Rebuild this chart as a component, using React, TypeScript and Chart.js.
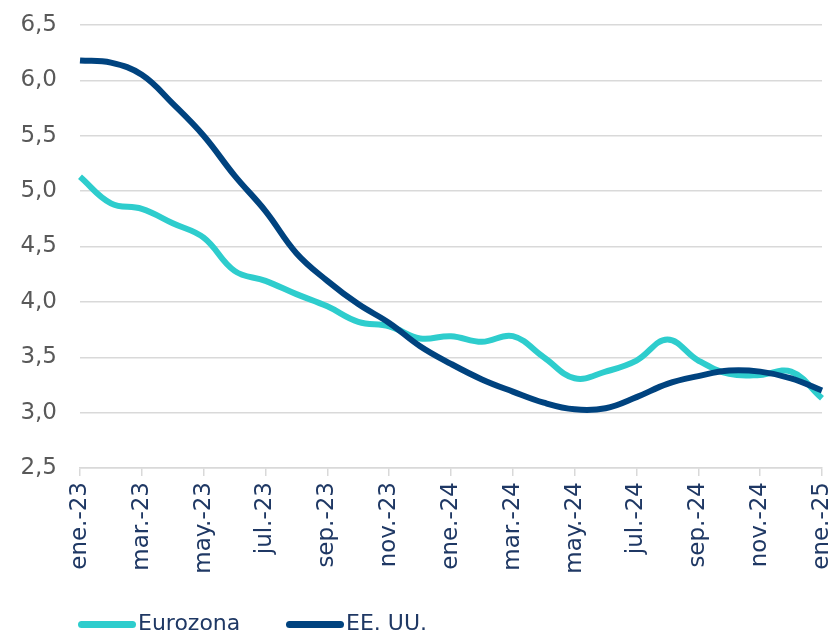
import React, { useEffect, useRef } from "react";
import { Chart, registerables } from "chart.js";

Chart.register(...registerables);

const categories = [
  "ene.-23", "feb.-23", "mar.-23", "abr.-23", "may.-23", "jun.-23",
  "jul.-23", "ago.-23", "sep.-23", "oct.-23", "nov.-23", "dic.-23",
  "ene.-24", "feb.-24", "mar.-24", "abr.-24", "may.-24", "jun.-24",
  "jul.-24", "ago.-24", "sep.-24", "oct.-24", "nov.-24", "dic.-24",
  "ene.-25",
];

const eurozona = [
  5.13, 4.89, 4.84, 4.71, 4.58, 4.28, 4.19, 4.07, 3.96, 3.82, 3.78, 3.67,
  3.69, 3.64, 3.69, 3.5, 3.31, 3.37, 3.47, 3.66, 3.47, 3.35, 3.34, 3.37, 3.13,
];

const eeuu = [
  6.18, 6.16, 6.05, 5.79, 5.5, 5.14, 4.82, 4.44, 4.19, 3.98, 3.81, 3.6,
  3.44, 3.3, 3.19, 3.09, 3.03, 3.04, 3.14, 3.26, 3.33, 3.38, 3.37, 3.31, 3.2,
];

const seriesNames = ["Eurozona", "EE. UU."];
const seriesColors = ["#2ECDCD", "#00437F"];

const yMin = 2.5;
const yMax = 6.5;
const yStep = 0.5;

const FONT = "'DejaVu Sans', 'Liberation Sans', Arial, sans-serif";

export default function App() {
  const canvasRef = useRef<HTMLCanvasElement | null>(null);

  useEffect(() => {
    document.body.style.margin = "0";
    const canvas = canvasRef.current;
    if (!canvas) return;
    const chart = new Chart(canvas, {
      type: "line",
      data: {
        labels: categories,
        datasets: [
          {
            label: seriesNames[0],
            data: eurozona,
            borderColor: seriesColors[0],
            backgroundColor: seriesColors[0],
            borderWidth: 6,
            pointRadius: 0,
            tension: 0.4,
            order: 2,
          },
          {
            label: seriesNames[1],
            data: eeuu,
            borderColor: seriesColors[1],
            backgroundColor: seriesColors[1],
            borderWidth: 6,
            pointRadius: 0,
            tension: 0.4,
            order: 1,
          },
        ],
      },
      options: {
        responsive: false,
        animation: false,
        devicePixelRatio: 1,
        layout: { padding: { left: 0, right: 12, top: 25, bottom: 0 } },
        plugins: {
          legend: { display: false },
          tooltip: { enabled: false },
        },
        scales: {
          x: {
            offset: false,
            grid: {
              display: true,
              drawOnChartArea: false,
              drawTicks: true,
              tickLength: 8,
              color: "#D9D9D9",
              lineWidth: 1.5,
            },
            border: { display: true, color: "#D9D9D9", width: 1.5 },
            ticks: {
              autoSkip: false,
              maxRotation: 90,
              minRotation: 90,
              padding: 6,
              color: "#1F3864",
              font: { family: FONT, size: 23 },
              callback: (_v: any, i: number) =>
                i % 2 === 0 ? categories[i] : null,
            },
            afterFit: (scale: any) => {
              scale.height = 635 - 468;
              scale.paddingLeft = 0;
              scale.paddingRight = 0;
            },
          },
          y: {
            min: yMin,
            max: yMax,
            grid: {
              color: "#D9D9D9",
              lineWidth: 1.5,
              drawTicks: false,
            },
            border: { display: false },
            ticks: {
              stepSize: yStep,
              padding: 23,
              color: "#595959",
              font: { family: FONT, size: 23 },
              callback: (v: any) => Number(v).toFixed(1).replace(".", ","),
            },
            afterFit: (scale: any) => {
              scale.width = 80;
              scale.paddingTop = 0;
              scale.paddingBottom = 0;
            },
          },
        },
      },
    });
    return () => chart.destroy();
  }, []);

  const legendText: React.CSSProperties = {
    position: "absolute",
    top: 612,
    fontFamily: FONT,
    fontSize: 22,
    lineHeight: "22px",
    color: "#1F3864",
    whiteSpace: "nowrap",
  };
  const legendLine = (left: number, color: string): React.CSSProperties => ({
    position: "absolute",
    left,
    top: 621,
    width: 58,
    height: 6.5,
    borderRadius: 4,
    background: color,
  });

  return (
    <div style={{ position: "relative", width: 834, height: 635, background: "#fff" }}>
      <canvas ref={canvasRef} width={834} height={635} style={{ display: "block" }} />
      <div style={legendLine(78, seriesColors[0])} />
      <div style={{ ...legendText, left: 138 }}>{seriesNames[0]}</div>
      <div style={legendLine(286, seriesColors[1])} />
      <div style={{ ...legendText, left: 346 }}>{seriesNames[1]}</div>
    </div>
  );
}
